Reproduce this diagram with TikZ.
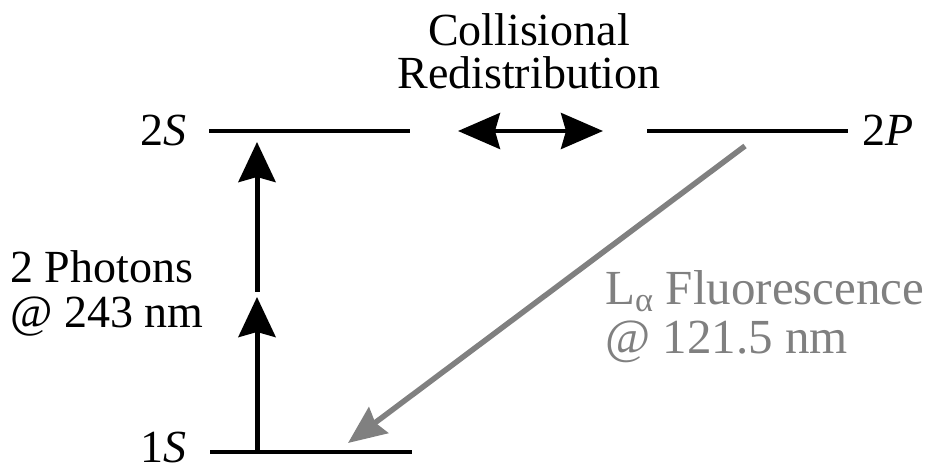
\documentclass[tikz,border=0pt]{standalone}
\usepackage{fontspec}
\setmainfont{Liberation Serif}
\usetikzlibrary{arrows.meta}
\begin{document}
\begin{tikzpicture}[x=1pt,y=-1pt,
  txt/.style={inner sep=0pt, font=\fontsize{46}{47}\selectfont},
  level/.style={line width=4.5pt},
  uparrow/.style={line width=5pt, -{Stealth[length=40pt,width=37pt,inset=5pt]}},
  dblarrow/.style={line width=4pt, {Stealth[length=42pt,width=36pt,inset=5pt]}-{Stealth[length=42pt,width=36pt,inset=5pt]}},
  grayarrow/.style={line width=5.5pt, draw=black!50, -{Stealth[length=38pt,width=32pt,inset=4pt,fill=black!50]}},
  graytxt/.style={inner sep=0pt, font=\fontsize{49}{49}\selectfont, text=black!50}]
\useasboundingbox (0,0) rectangle (930,473);
% level end points
\coordinate (s2a) at (209,131);
\coordinate (s2b) at (410,131);
\coordinate (p2a) at (647,131);
\coordinate (p2b) at (848,131);
\coordinate (s1a) at (210,452);
\coordinate (s1b) at (412,452);
\draw[level] (s2a) -- (s2b);
\draw[level] (p2a) -- (p2b);
\draw[level] (s1a) -- (s1b);
% labels
\node[txt, anchor=base east] (l2s) at (187,146) {2\textit{S}};
\node[txt, anchor=base west] (l2p) at (862,146) {2\textit{P}};
\node[txt, anchor=base east] (l1s) at (187,462) {1\textit{S}};
\node[txt, font=\fontsize{46}{43}\selectfont, align=center, anchor=base] (coll) at (529,89) {Collisional\\Redistribution};
\node[txt, font=\fontsize{46}{45}\selectfont, align=left, anchor=base west] (ph) at (10,328) {2 Photons\\@ 243 nm};
\node[graytxt, align=left, anchor=base west] (fl) at (605,353) {L\textsubscript{α} Fluorescence\\@ 121.5 nm};
% arrows
\coordinate (a1s) at (257,450);
\coordinate (a1e) at (257,297);
\coordinate (a2s) at (257,292);
\coordinate (a2e) at (257,142);
\draw[uparrow] (a1s) -- (a1e);
\draw[uparrow] (a2s) -- (a2e);
\coordinate (da) at (458,131);
\coordinate (db) at (603,131);
\draw[dblarrow] (da) -- (db);
\coordinate (ga) at (745,146);
\coordinate (gb) at (348,443);
\draw[grayarrow] (ga) -- (gb);
\end{tikzpicture}
\end{document}
